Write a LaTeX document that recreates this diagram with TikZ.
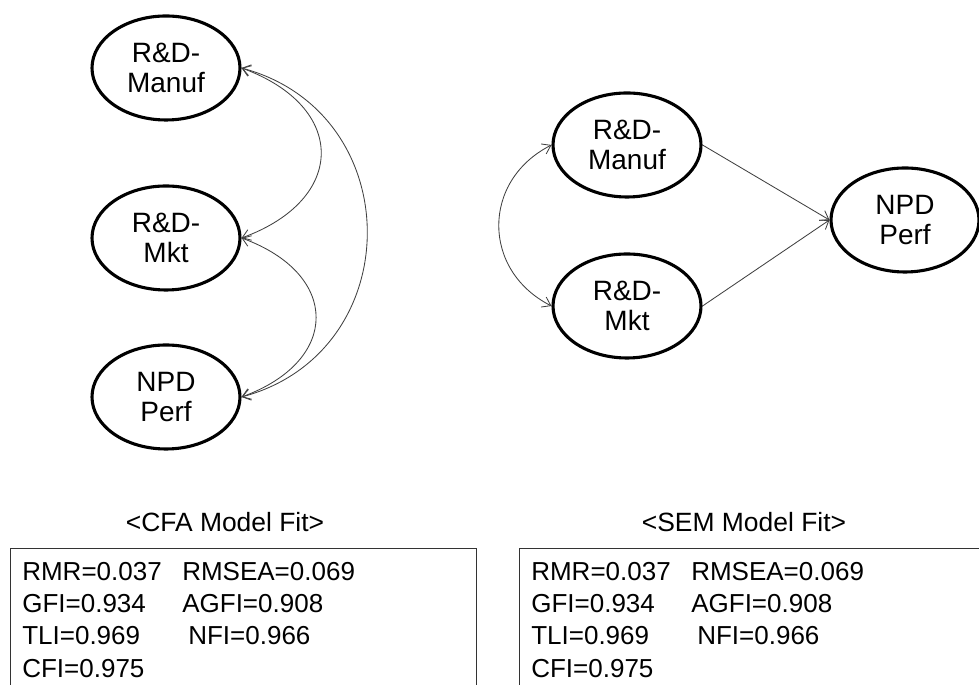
\documentclass[tikz,border=0pt]{standalone}
\usepackage{fontspec}
\setmainfont{Liberation Sans}
\usetikzlibrary{shapes.geometric,arrows.meta}

\begin{document}
\begin{tikzpicture}
\tikzset{
    semLatent/.style={ellipse,draw=black,line width=2.2pt,minimum width=3.7cm,minimum height=2.6cm,inner sep=0pt,align=center,font=\fontsize{19.9}{21.3}\selectfont},
    semLink/.style={draw=black!75,line width=0.6pt,>={Straight Barb[length=2mm,width=2.8mm]}},
    semFitBox/.style={rectangle,draw=black!80,line width=0.8pt,minimum width=11.65cm,minimum height=4cm,anchor=north west},
    semFitText/.style={anchor=north west,inner sep=0pt,align=left,font=\fontsize{18.5}{23.1}\selectfont},
    semFitHead/.style={font=\fontsize{18.8}{22}\selectfont},
}
\clip (0,0) rectangle (24.475,17.125);

% CFA model
\node[semLatent] (cm) at (4.15,15.425) {R\&D-\\Manuf};
\node[semLatent] (ck) at (4.15,11.175) {R\&D-\\Mkt};
\node[semLatent] (cp) at (4.15,7.2) {NPD\\Perf};

\draw[semLink,<->] (cm.east) to[out=-20,in=20,looseness=1.7] (ck.east);
\draw[semLink,<->] (ck.east) to[out=-20,in=20,looseness=1.7] (cp.east);
\draw[semLink,<->] (cm.east) to[out=-15,in=15,looseness=1.35] (cp.east);

% SEM model
\node[semLatent] (sm) at (15.675,13.5) {R\&D-\\Manuf};
\node[semLatent] (sk) at (15.675,9.475) {R\&D-\\Mkt};
\node[semLatent] (sp) at (22.625,11.625) {NPD\\Perf};

\draw[semLink,<->] (sm.west) to[out=207,in=153,looseness=1.25] (sk.west);
\draw[semLink,->] (sm.east) -- (sp.west);
\draw[semLink,->] (sk.east) -- (sp.west);

% fit indices
\node[semFitHead] (cfaHead) at (5.625,4.075) {<CFA Model Fit>};
\node[semFitHead] (semHead) at (18.6,4.075) {<SEM Model Fit>};

\node[semFitBox] (cfaBox) at (0.25,3.425) {};
\node[semFitBox] (semBox) at (12.975,3.425) {};

\node[semFitText] (cfaFit) at ([xshift=0.3cm,yshift=-0.225cm]cfaBox.north west) {%
\begin{tabular}{@{}p{4cm}@{}l@{}}
RMR=0.037 & RMSEA=0.069\\
GFI=0.934 & AGFI=0.908\\
TLI=0.969 & \hspace{0.15cm}NFI=0.966\\
CFI=0.975 &
\end{tabular}};
\node[semFitText] (semFit) at ([xshift=0.3cm,yshift=-0.225cm]semBox.north west) {%
\begin{tabular}{@{}p{4cm}@{}l@{}}
RMR=0.037 & RMSEA=0.069\\
GFI=0.934 & AGFI=0.908\\
TLI=0.969 & \hspace{0.15cm}NFI=0.966\\
CFI=0.975 &
\end{tabular}};
\end{tikzpicture}
\end{document}
